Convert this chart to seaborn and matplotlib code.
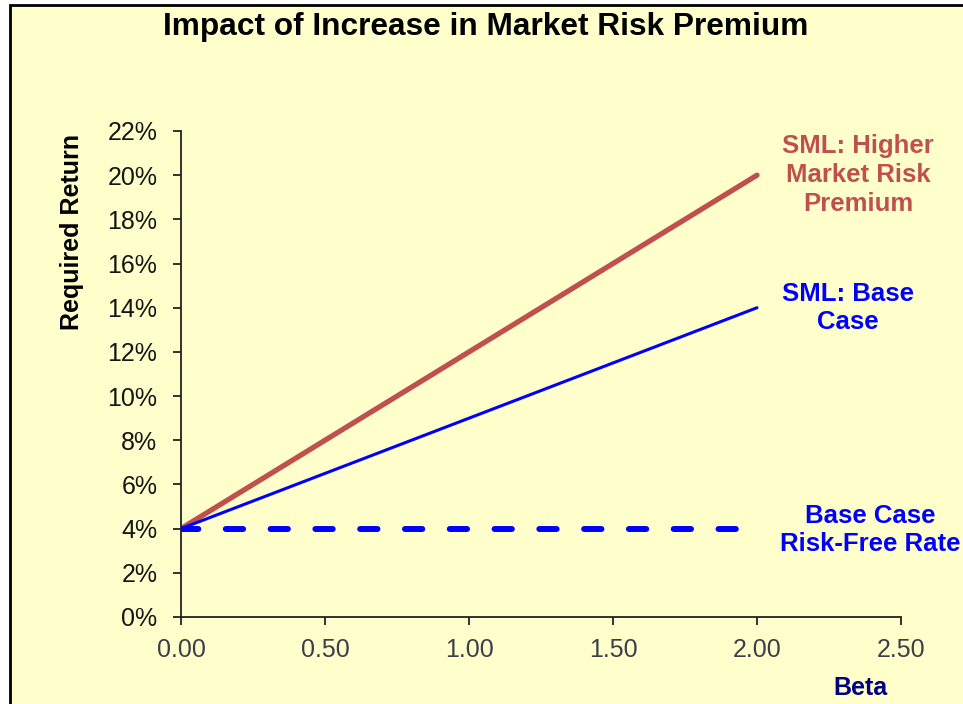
import numpy as np
import pandas as pd
import seaborn as sns
import matplotlib.pyplot as plt
from matplotlib.patches import Rectangle
from matplotlib.ticker import FuncFormatter

beta = [0.0, 2.0]
sml_base = [4.0, 14.0]
sml_high = [4.0, 20.0]
risk_free = [4.0, 4.0]

y_ticks = list(range(0, 23, 2))
x_ticks = [0.0, 0.5, 1.0, 1.5, 2.0, 2.5]

RED = "#C0504D"
BLUE = "#0000FF"
BG = "#FFFFCC"

sns.set_style("white")
plt.rcParams["font.family"] = ["Liberation Sans", "DejaVu Sans"]

df = pd.DataFrame({"beta": beta, "base": sml_base, "high": sml_high, "rf": risk_free})

fig = plt.figure(figsize=(9.63, 7.04), dpi=100)
fig.patch.set_facecolor("white")
fig.patches.append(Rectangle((10 / 963, -0.05), 1.2, 1.05 - 5 / 704,
                             transform=fig.transFigure, facecolor=BG,
                             edgecolor="black", linewidth=2, zorder=-5))

ax = fig.add_axes([181 / 963, 87 / 704, 720 / 963, 486 / 704])
ax.set_facecolor("none")

sns.lineplot(data=df, x="beta", y="high", ax=ax, color=RED, linewidth=3.8,
             solid_capstyle="round")
sns.lineplot(data=df, x="beta", y="base", ax=ax, color=BLUE, linewidth=2.2,
             solid_capstyle="round")
rf_line = sns.lineplot(data=df, x="beta", y="rf", ax=ax, color=BLUE,
                       linewidth=4.3).lines[-1]
rf_line.set_dashes([2.9, 4.6])
rf_line.set_dash_capstyle("round")

ax.set_xlim(0, 2.5)
ax.set_ylim(0, 22)
ax.set_xticks(x_ticks)
ax.set_yticks(y_ticks)
ax.xaxis.set_major_formatter(FuncFormatter(lambda v, p: f"{v:.2f}"))
ax.yaxis.set_major_formatter(FuncFormatter(lambda v, p: f"{v:.0f}%"))
ax.tick_params(axis="both", direction="out", length=6, width=1.3,
               color="#222222", labelsize=18, left=True, bottom=True)
ax.tick_params(axis="x", labelcolor="#3A3F48", pad=9)
ax.tick_params(axis="y", labelcolor="#151515", pad=11)

for side in ["top", "right"]:
    ax.spines[side].set_visible(False)
for side in ["left", "bottom"]:
    ax.spines[side].set_color("#222222")
    ax.spines[side].set_linewidth(1.3)

ax.set_xlabel("")
ax.set_ylabel("")

fig.text(486 / 963, 1 - 27 / 704, "Impact of Increase in Market Risk Premium",
         ha="center", va="center", fontsize=22.8, fontweight="bold", color="black")
fig.text(72 / 963, 1 - 232 / 704, "Required Return", rotation=90,
         ha="center", va="center", fontsize=18, fontweight="bold", color="black")
fig.text(860 / 963, 1 - 688 / 704, "Beta", ha="center", va="center",
         fontsize=18, fontweight="bold", color="#000080")

fig.text(858 / 963, 1 - 175 / 704, "SML: Higher\nMarket Risk\nPremium",
         ha="center", va="center", fontsize=18.5, fontweight="bold",
         color=RED, linespacing=1.25)
fig.text(848 / 963, 1 - 308 / 704, "SML: Base\nCase",
         ha="center", va="center", fontsize=18.5, fontweight="bold",
         color=BLUE, linespacing=1.25)
fig.text(870 / 963, 1 - 530 / 704, "Base Case\nRisk-Free Rate",
         ha="center", va="center", fontsize=18.5, fontweight="bold",
         color=BLUE, linespacing=1.25)

fig.savefig("out.png", dpi=100, facecolor=fig.get_facecolor())
